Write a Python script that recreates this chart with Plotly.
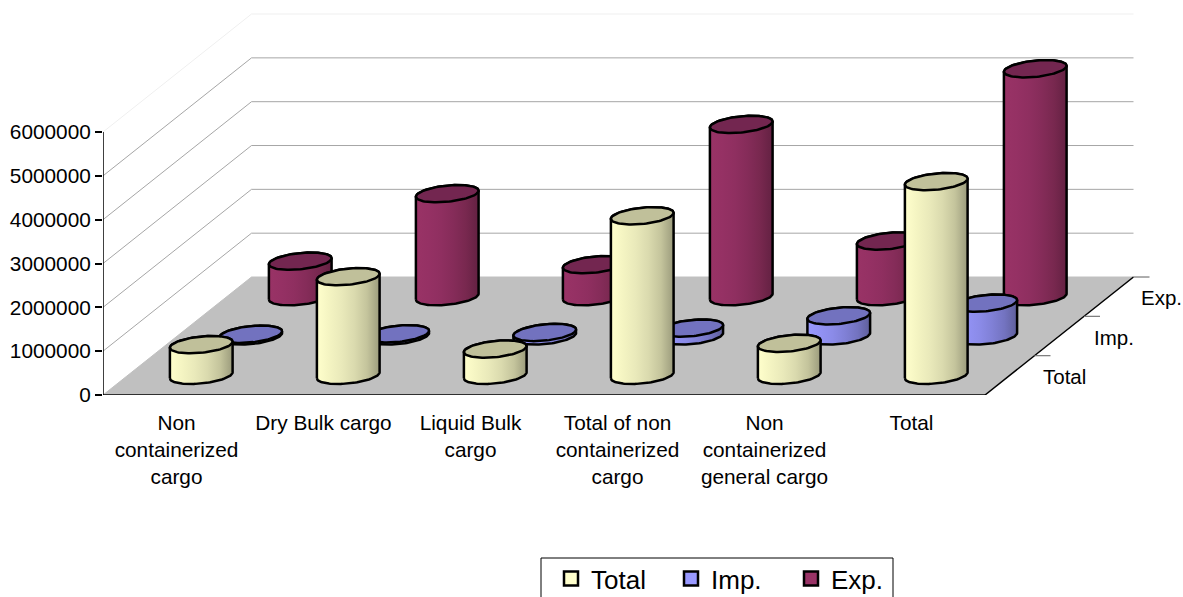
import numpy as np
import plotly.graph_objects as go

categories = ["Non<br>containerized<br>cargo", "Dry Bulk cargo", "Liquid Bulk<br>cargo",
              "Total of non<br>containerized<br>cargo", "Non<br>containerized<br>general cargo", "Total"]
series_names = ["Total", "Imp.", "Exp."]
total_values = [700000, 2250000, 600000, 3640000, 730000, 4420000]
imp_values = [40000, 50000, 80000, 180000, 460000, 750000]
exp_values = [810000, 2350000, 730000, 3930000, 1270000, 5200000]
value_ticks = [0, 1000000, 2000000, 3000000, 4000000, 5000000, 6000000]

PX_PER_CAT = 147.0
PX_PER_VAL = 43.83e-6
DEPTH_DX = 49.5 / PX_PER_CAT     # categories per depth unit
DEPTH_DY = 39.33 / PX_PER_VAL    # value units per depth unit
RX = 0.2                         # cylinder radius, categories
RZ = 0.22                        # cylinder radius, depth units
W, H = 1183, 597
LEFT, FLOOR = 103, 395


def proj(c, d, v):
    return np.asarray(c) + np.asarray(d) * DEPTH_DX, np.asarray(v) + np.asarray(d) * DEPTH_DY


styles = {
    "Total": dict(base="#FFFFCC", top="#C0C09A", ramp=["#FFFFCC", "#F4F4C2", "#E9E9BA", "#DADAAE", "#C4C49C", "#9B9B7C"]),
    "Imp.": dict(base="#9999FF", top="#7272BF", ramp=["#9999FF", "#9292F4", "#8B8BE8", "#8080D6", "#7373C0", "#5F5F9B"]),
    "Exp.": dict(base="#993366", top="#732650", ramp=["#993366", "#953164", "#8F2F60", "#852C59", "#78284F", "#632142"]),
}

fig = go.Figure()


def line(xs, ys, color, width=1):
    fig.add_trace(go.Scatter(x=xs, y=ys, mode="lines", line=dict(color=color, width=width),
                             showlegend=False, hoverinfo="skip", cliponaxis=False))


# floor
fx, fy = proj([0, 6, 6, 0, 0], [0, 0, 3, 3, 0], [0, 0, 0, 0, 0])
fig.add_trace(go.Scatter(x=fx, y=fy, mode="lines", fill="toself", fillcolor="#C0C0C0",
                         line=dict(color="#C0C0C0", width=1), showlegend=False, hoverinfo="skip"))

# walls' gridlines
for v in value_ticks[1:]:
    gx, gy = proj([0, 0, 6], [0, 3, 3], [v, v, v])
    line(gx, gy, "#EFEFEF" if v == value_ticks[-1] else "#A6A6A6", 1)

# axis lines and tick marks
line([0, 0], [0, value_ticks[-1]], "#000000", 1.5)
line([0, 6], [0, 0], "#000000", 1.5)
ex, ey = proj([6, 6], [0, 3], [0, 0])
line(ex, ey, "#000000", 1.5)
for i in range(1, 7):
    line([i, i], [0, -7 / PX_PER_VAL], "#555555", 1.5)
for d in (1, 2, 3):
    tx, ty = proj([6, 6 + 16 / PX_PER_CAT], [d, d], [0, 0])
    line(tx, ty, "#777777", 1.2)

# cylinders
t0 = np.arctan2(RZ * DEPTH_DX, RX)
lower = np.linspace(t0 - np.pi, t0, 60)
upper = np.linspace(t0, t0 + np.pi, 60)
full = np.linspace(0, 2 * np.pi, 100)


def ring(c, d, v, t):
    return proj(c + RX * np.cos(t), d + RZ * np.sin(t), np.full_like(t, v))


rows = list(zip(series_names, [total_values, imp_values, exp_values]))
for depth, (name, values) in reversed(list(enumerate(rows))):
    s = styles[name]
    for i, v in enumerate(values):
        c, d = i + 0.5, depth + 0.5
        bx, by = ring(c, d, 0, lower)
        ux, uy = ring(c, d, v, upper)
        fig.add_trace(go.Scatter(
            x=np.r_[bx, ux, bx[0]], y=np.r_[by, uy, by[0]], mode="lines", fill="toself",
            line=dict(color="#000000", width=2.5),
            fillgradient=dict(type="horizontal",
                              colorscale=[[k / (len(s["ramp"]) - 1), col] for k, col in enumerate(s["ramp"])]),
            showlegend=False, hoverinfo="skip", cliponaxis=False))
        tx, ty = ring(c, d, v, full)
        fig.add_trace(go.Scatter(x=tx, y=ty, mode="lines", fill="toself", fillcolor=s["top"],
                                 line=dict(color="#000000", width=2.5),
                                 showlegend=False, hoverinfo="skip", cliponaxis=False))

# legend entries
for name in series_names:
    fig.add_trace(go.Scatter(x=[None], y=[None], mode="markers", name=name,
                             marker=dict(symbol="square", size=14, color=styles[name]["base"],
                                         line=dict(color="#000000", width=2.5))))

# depth axis labels
for d, (name, shift) in enumerate(zip(series_names, (31, 33, 30))):
    ax, ay = proj(6, d + 0.5, 0)
    fig.add_annotation(x=float(ax), y=float(ay), text=name, showarrow=False, xanchor="left", xshift=shift,
                       yshift=-1, font=dict(size=20.5, color="#000000"))

plot_w = W - LEFT
plot_h = FLOOR
fig.update_layout(
    width=W, height=H, autosize=False,
    margin=dict(l=LEFT, r=0, t=0, b=H - FLOOR, pad=0, autoexpand=False),
    paper_bgcolor="white", plot_bgcolor="white",
    font=dict(family="Liberation Sans, Arial, sans-serif", size=20.8, color="#000000"),
    xaxis=dict(range=[0, plot_w / PX_PER_CAT], showgrid=False, zeroline=False, showline=False,
               tickmode="array", tickvals=[i + 0.5 for i in range(6)], ticktext=categories,
               ticks="outside", ticklen=9, tickcolor="rgba(0,0,0,0)", tickangle=0),
    yaxis=dict(range=[0, plot_h / PX_PER_VAL], showgrid=False, zeroline=False, showline=False,
               tickmode="array", tickvals=value_ticks, ticktext=[str(v) for v in value_ticks],
               ticks="outside", ticklen=7, tickcolor="#000000", tickwidth=1.5),
    legend=dict(orientation="h", x=(551 - LEFT) / plot_w, xanchor="left", y=-(555 - FLOOR) / plot_h, yanchor="top",
                borderwidth=0, bgcolor="rgba(0,0,0,0)", font=dict(size=26),
                entrywidth=75, entrywidthmode="pixels", itemclick=False, itemdoubleclick=False),
    shapes=[dict(type="rect", xref="paper", yref="paper", layer="below",
                 x0=(541 - LEFT) / plot_w, x1=(893 - LEFT) / plot_w,
                 y0=-(610 - FLOOR) / plot_h, y1=-(558 - FLOOR) / plot_h,
                 line=dict(color="#000000", width=1), fillcolor="white")],
)

fig.write_html("out.html", config=dict(displayModeBar=False), post_script="document.body.style.margin='0';")
